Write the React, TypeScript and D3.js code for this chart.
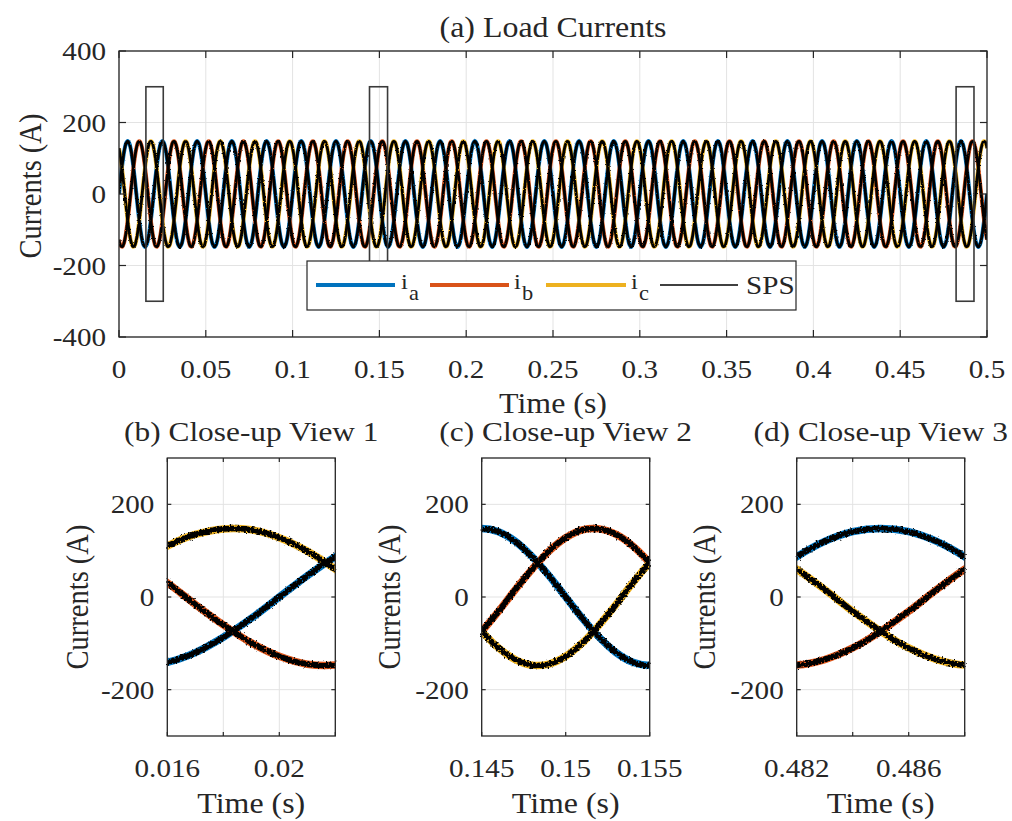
import React from 'react';
import * as d3 from 'd3';

// ---------- data ----------
const FONT = '"Liberation Serif", "Times New Roman", Times, serif';
const SX = 1.12; // horizontal stretch of the reference's glyphs

const phaseKeys = ['a', 'b', 'c'];
const phaseColors = ['#0072BD', '#D95319', '#EDB120'];
const spsColor = '#000000';

// one steady-state cycle, sampled every 1 ms (A)
const cycleMs = [0, 1, 2, 3, 4, 5, 6, 7, 8, 9, 10, 11, 12, 13, 14, 15, 16, 17, 18, 19, 20];
const iaCycle = [0, 46, 87, 120, 141, 148, 141, 120, 87, 46, 0, -46, -87, -120, -141, -148, -141, -120, -87, -46, 0];
const ibCycle = [-128, -145, -147, -135, -110, -74, -31, 16, 60, 99, 128, 145, 147, 135, 110, 74, 31, -16, -60, -99, -128];
const icCycle = [128, 99, 60, 16, -31, -74, -110, -135, -147, -145, -128, -99, -60, -16, 31, 74, 110, 135, 147, 145, 128];
const cyclesShown = 25; // 50 Hz over 0.5 s

const mainXTicks = [0, 0.05, 0.1, 0.15, 0.2, 0.25, 0.3, 0.35, 0.4, 0.45, 0.5];
const mainXTickLabels = ['0', '0.05', '0.1', '0.15', '0.2', '0.25', '0.3', '0.35', '0.4', '0.45', '0.5'];
const mainYTicks = [400, 200, 0, -200, -400];
const mainYTickLabels = ['400', '200', '0', '-200', '-400'];
const zoomBoxStart = [0.0155, 0.1443, 0.4822];
const zoomBoxEnd = [0.0255, 0.1547, 0.4925];
const zoomBoxAmp = [-300, 300];

const closeTitles = ['(b) Close-up View 1', '(c) Close-up View 2', '(d) Close-up View 3'];
const closeDomains = [[0.016, 0.022], [0.145, 0.155], [0.482, 0.488]];
const closeXTicks = [[0.016, 0.018, 0.02, 0.022], [0.145, 0.15, 0.155], [0.482, 0.484, 0.486, 0.488]];
const closeXTickLabels = [['0.016', '', '0.02', ''], ['0.145', '0.15', '0.155'], ['0.482', '', '0.486', '']];
const closeYTicks = [200, 0, -200];
const closeYTickLabels = ['200', '0', '-200'];

// ---------- series ----------
type Pt = { t: number; v: number };
const cycles = [iaCycle, ibCycle, icCycle];
const series: Pt[][] = cycles.map((cyc) => {
  const pts: Pt[] = [];
  for (let c = 0; c < cyclesShown; c++) {
    for (let k = 0; k < cycleMs.length - 1; k++) {
      pts.push({ t: c * 0.02 + cycleMs[k] / 1000, v: cyc[k] });
    }
  }
  pts.push({ t: cyclesShown * 0.02, v: cyc[cyc.length - 1] });
  return pts;
});

const AX = '#262626';
const GRID = '#e3e3e3';

function T({ x, y, anchor = 'middle', size = 26, rot = false, children }: any) {
  const tr = rot
    ? `translate(${x},${y}) rotate(-90) scale(1,${SX})`
    : `translate(${x},${y}) scale(${SX},1)`;
  return (
    <text transform={tr} textAnchor={anchor} fontSize={size} fontFamily={FONT} fill={AX}>
      {children}
    </text>
  );
}

// ---------- main panel ----------
const M = { left: 119, right: 987, top: 51, bottom: 337 };
const mx = d3.scaleLinear().domain([0, 0.5]).range([M.left, M.right]);
const my = d3.scaleLinear().domain([-400, 400]).range([M.bottom, M.top]);

function MainPanel() {
  const line = d3
    .line<Pt>()
    .x((d) => mx(d.t))
    .y((d) => my(d.v))
    .curve(d3.curveCatmullRom);
  return (
    <g>
      <defs>
        <clipPath id="clipMain">
          <rect x={M.left} y={M.top} width={M.right - M.left} height={M.bottom - M.top} />
        </clipPath>
      </defs>
      {mainXTicks.map((t, i) => (
        <line key={'gx' + i} x1={mx(t)} x2={mx(t)} y1={M.top} y2={M.bottom} stroke={GRID} strokeWidth={1} />
      ))}
      {mainYTicks.map((v, i) => (
        <line key={'gy' + i} x1={M.left} x2={M.right} y1={my(v)} y2={my(v)} stroke={GRID} strokeWidth={1} />
      ))}
      <g clipPath="url(#clipMain)">
        {series.map((s, i) => (
          <path key={'c' + i} d={line(s) || ''} fill="none" stroke={phaseColors[i]} strokeWidth={4} />
        ))}
        <g filter="url(#jagS)">
          {series.map((s, i) => (
            <path key={'k' + i} d={line(s) || ''} fill="none" stroke={spsColor} strokeWidth={2.8} />
          ))}
        </g>
        {zoomBoxStart.map((t0, i) => (
          <rect
            key={'zb' + i}
            x={mx(t0)}
            y={my(zoomBoxAmp[1])}
            width={mx(zoomBoxEnd[i]) - mx(t0)}
            height={my(zoomBoxAmp[0]) - my(zoomBoxAmp[1])}
            fill="none"
            stroke="#3a3a3a"
            strokeWidth={1.6}
          />
        ))}
      </g>
      {mainXTicks.map((t, i) => (
        <g key={'tx' + i}>
          <line x1={mx(t)} x2={mx(t)} y1={M.bottom} y2={M.bottom - 7} stroke={AX} strokeWidth={1.2} />
          <line x1={mx(t)} x2={mx(t)} y1={M.top} y2={M.top + 7} stroke={AX} strokeWidth={1.2} />
          <T x={mx(t)} y={378} size={26}>{mainXTickLabels[i]}</T>
        </g>
      ))}
      {mainYTicks.map((v, i) => (
        <g key={'ty' + i}>
          <line x1={M.left} x2={M.left + 7} y1={my(v)} y2={my(v)} stroke={AX} strokeWidth={1.2} />
          <line x1={M.right} x2={M.right - 7} y1={my(v)} y2={my(v)} stroke={AX} strokeWidth={1.2} />
          <T x={106} y={my(v) + 9} anchor="end" size={26}>{mainYTickLabels[i]}</T>
        </g>
      ))}
      <rect x={M.left} y={M.top} width={M.right - M.left} height={M.bottom - M.top} fill="none" stroke={AX} strokeWidth={1.3} />
      <T x={(M.left + M.right) / 2} y={37} size={28.5}>(a) Load Currents</T>
      <T x={(M.left + M.right) / 2} y={413} size={28.5}>Time (s)</T>
      <T x={41} y={186} size={28.5} rot>Currents (A)</T>
      <Legend />
    </g>
  );
}

function Legend() {
  const lx = 307, ly = 261, lw = 489, lh = 49;
  const cy = 285;
  const segs = [
    [316, 395],
    [430, 509],
    [546, 626],
  ];
  const labelX = [401, 514, 631];
  return (
    <g>
      <rect x={lx} y={ly} width={lw} height={lh} fill="#fff" stroke={AX} strokeWidth={1.2} />
      {segs.map((s, i) => (
        <g key={'lg' + i}>
          <line x1={s[0]} x2={s[1]} y1={cy} y2={cy} stroke={phaseColors[i]} strokeWidth={4} />
          <T x={labelX[i]} y={289} anchor="start" size={22}>i</T>
          <T x={labelX[i] + 8} y={300} anchor="start" size={20}>{phaseKeys[i]}</T>
        </g>
      ))}
      <line x1={660} x2={738} y1={cy} y2={cy} stroke={spsColor} strokeWidth={1.5} />
      <T x={746} y={294} anchor="start" size={26}>SPS</T>
    </g>
  );
}

// ---------- close-up panels ----------
const C = { top: 458, bottom: 736, width: 168 };
const closeLefts = [167.3, 481.7, 796.7];
const closeYLabelX = [88, 400, 715];
const cy = d3.scaleLinear().domain([-300, 300]).range([C.bottom, C.top]);

function ClosePanel({ idx }: { idx: number }) {
  const left = closeLefts[idx];
  const dom = closeDomains[idx];
  const x = d3.scaleLinear().domain(dom).range([left, left + C.width]);
  const line = d3
    .line<Pt>()
    .x((d) => x(d.t))
    .y((d) => cy(d.v))
    .curve(d3.curveCatmullRom);
  const sub = series.map((s) => s.filter((p) => p.t >= dom[0] - 0.0021 && p.t <= dom[1] + 0.0021));
  const cid = 'clipC' + idx;
  const mid = left + C.width / 2;
  return (
    <g>
      <defs>
        <clipPath id={cid}>
          <rect x={left - 3} y={C.top} width={C.width + 6} height={C.bottom - C.top} />
        </clipPath>
        <clipPath id={cid + 'i'}>
          <rect x={left} y={C.top} width={C.width} height={C.bottom - C.top} />
        </clipPath>
      </defs>
      {closeXTicks[idx].map((t, i) => (
        <line key={'gx' + i} x1={x(t)} x2={x(t)} y1={C.top} y2={C.bottom} stroke={GRID} strokeWidth={1} />
      ))}
      {closeYTicks.map((v, i) => (
        <line key={'gy' + i} x1={left} x2={left + C.width} y1={cy(v)} y2={cy(v)} stroke={GRID} strokeWidth={1} />
      ))}
      <g clipPath={`url(#${cid})`}>
        <g clipPath={`url(#${cid}i)`}>
          {sub.map((s, i) => (
            <path key={'c' + i} d={line(s) || ''} fill="none" stroke={phaseColors[i]} strokeWidth={7.5} />
          ))}
        </g>
        <g filter="url(#jag)">
          <g clipPath={`url(#${cid}i)`}>
            {sub.map((s, i) => (
              <path key={'k' + i} d={line(s) || ''} fill="none" stroke={spsColor} strokeWidth={5.6} />
            ))}
          </g>
        </g>
      </g>
      {closeXTicks[idx].map((t, i) => (
        <g key={'tx' + i}>
          <line x1={x(t)} x2={x(t)} y1={C.bottom} y2={C.bottom - 4} stroke={AX} strokeWidth={1.2} />
          <line x1={x(t)} x2={x(t)} y1={C.top} y2={C.top + 4} stroke={AX} strokeWidth={1.2} />
          {closeXTickLabels[idx][i] ? (
            <T x={x(t)} y={777} size={26}>{closeXTickLabels[idx][i]}</T>
          ) : null}
        </g>
      ))}
      {closeYTicks.map((v, i) => (
        <g key={'ty' + i}>
          <line x1={left} x2={left + 4} y1={cy(v)} y2={cy(v)} stroke={AX} strokeWidth={1.2} />
          <line x1={left + C.width} x2={left + C.width - 4} y1={cy(v)} y2={cy(v)} stroke={AX} strokeWidth={1.2} />
          <T x={left - 13} y={cy(v) + 9} anchor="end" size={26}>{closeYTickLabels[i]}</T>
        </g>
      ))}
      <rect x={left} y={C.top} width={C.width} height={C.bottom - C.top} fill="none" stroke={AX} strokeWidth={1.3} />
      <T x={mid} y={441} size={28}>{closeTitles[idx]}</T>
      <T x={mid} y={813} size={28.5}>Time (s)</T>
      <T x={closeYLabelX[idx]} y={(C.top + C.bottom) / 2} size={28.5} rot>Currents (A)</T>
    </g>
  );
}

export default function App() {
  return (
    <svg
      width={1012}
      height={821}
      viewBox="0 0 1012 821"
      style={{ position: 'absolute', left: 0, top: 0, background: '#fff' }}
    >
      <defs>
        <filter id="jag" filterUnits="userSpaceOnUse" x="0" y="0" width="1012" height="821">
          <feTurbulence type="fractalNoise" baseFrequency="0.5" numOctaves="1" seed="7" result="n" />
          <feDisplacementMap in="SourceGraphic" in2="n" scale="7" xChannelSelector="R" yChannelSelector="G" />
        </filter>
        <filter id="jagS" filterUnits="userSpaceOnUse" x="0" y="0" width="1012" height="821">
          <feTurbulence type="fractalNoise" baseFrequency="0.6" numOctaves="1" seed="3" result="n" />
          <feDisplacementMap in="SourceGraphic" in2="n" scale="2.5" xChannelSelector="R" yChannelSelector="G" />
        </filter>
      </defs>
      <rect x={0} y={0} width={1012} height={821} fill="#fff" />
      <MainPanel />
      {[0, 1, 2].map((i) => (
        <ClosePanel key={i} idx={i} />
      ))}
    </svg>
  );
}
